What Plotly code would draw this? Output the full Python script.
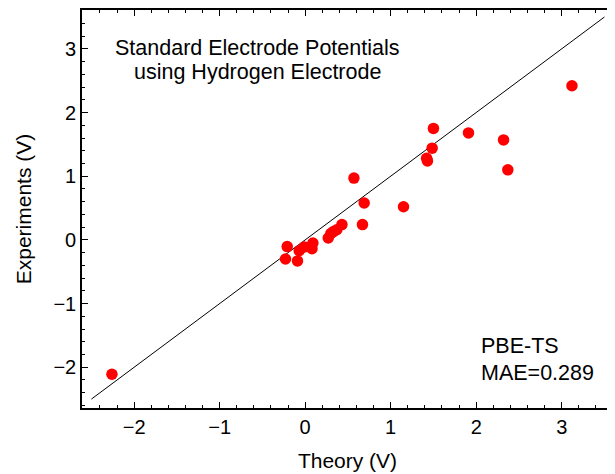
import plotly.graph_objects as go

theory = [-2.26, -0.23, -0.21, -0.09, -0.07, -0.01, 0.08, 0.09, 0.27, 0.30, 0.33,
          0.37, 0.43, 0.57, 0.67, 0.69, 1.15, 1.42, 1.43, 1.485, 1.50, 1.91, 2.32,
          2.37, 3.12]
experiment = [-2.11, -0.30, -0.105, -0.33, -0.17, -0.11, -0.14, -0.05, 0.03, 0.10,
              0.13, 0.16, 0.24, 0.97, 0.24, 0.58, 0.52, 1.28, 1.24, 1.44, 1.75, 1.68,
              1.57, 1.10, 2.42]
diag = [-2.5, 3.5]
x_ticks = [-2, -1, 0, 1, 2, 3]
y_ticks = [-2, -1, 0, 1, 2, 3]

FONT = "Liberation Sans, Arial, Helvetica, sans-serif"

fig = go.Figure()
fig.add_trace(go.Scatter(x=diag, y=diag, mode="lines",
                         line=dict(color="black", width=1), showlegend=False,
                         hoverinfo="skip"))
fig.add_trace(go.Scatter(x=theory, y=experiment, mode="markers",
                         marker=dict(color="#ff0000", size=11.5, line=dict(width=0)),
                         showlegend=False))

axis_common = dict(
    showgrid=False, zeroline=False, showline=True, linecolor="black", linewidth=1.6,
    mirror="allticks", ticks="inside", ticklen=6, tickwidth=1.3, tickcolor="black",
    tickfont=dict(family=FONT, size=20, color="black"), automargin=False,
    minor=dict(ticks="inside", ticklen=3.5, tickwidth=1, tickcolor="black", dtick=0.2,
               showgrid=False),
)

fig.update_xaxes(range=[-2.61, 3.60], tickvals=x_ticks, dtick=1, tick0=0,
                 title=dict(text="Theory (V)", font=dict(family=FONT, size=21, color="black"),
                            standoff=17),
                 **axis_common)
fig.update_yaxes(range=[-2.64, 3.61], tickvals=y_ticks, dtick=1, tick0=0,
                 title=dict(text="Experiments (V)", font=dict(family=FONT, size=21, color="black"),
                            standoff=16),
                 **axis_common)

ann_font = dict(family=FONT, size=21.5, color="black")
fig.add_annotation(xref="paper", yref="paper", x=0.33, y=0.905, xanchor="center",
                   yanchor="middle", showarrow=False,
                   text="Standard Electrode Potentials", font=ann_font)
fig.add_annotation(xref="paper", yref="paper", x=0.33, y=0.844, xanchor="center",
                   yanchor="middle", showarrow=False,
                   text="using Hydrogen Electrode", font=ann_font)
fig.add_annotation(xref="paper", yref="paper", x=0.748, y=0.156, xanchor="left",
                   yanchor="middle", showarrow=False, text="PBE-TS", font=ann_font)
fig.add_annotation(xref="paper", yref="paper", x=0.748, y=0.088, xanchor="left",
                   yanchor="middle", showarrow=False, text="MAE=0.289", font=ann_font)

# page body adds an 8px offset; size the figure so the plot area lands in place
fig.update_layout(width=607, height=466, margin=dict(l=74, r=2, t=2, b=66),
                  paper_bgcolor="white", plot_bgcolor="white",
                  font=dict(family=FONT, color="black"))

fig.write_html("out.html")
